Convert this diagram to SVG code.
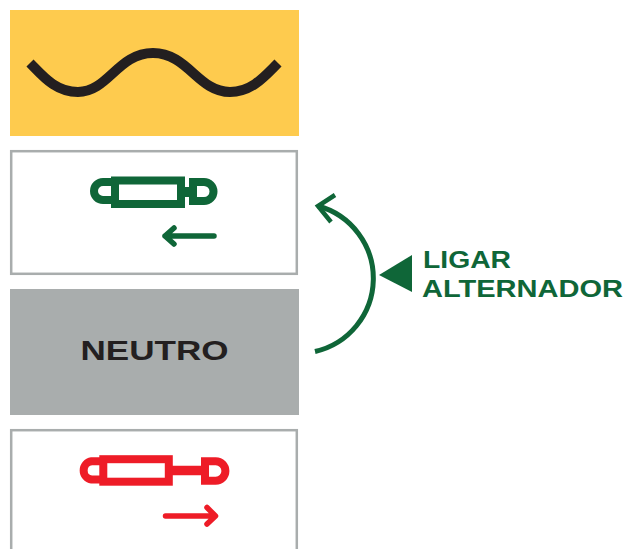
<svg xmlns="http://www.w3.org/2000/svg" width="629" height="549" viewBox="0 0 629 549">
<style>
.box{fill:#fff;stroke:#a9adad;stroke-width:2.500}
.g{fill:none;stroke:#0f6638}
.r{fill:none;stroke:#ee1c27}
text{font-family:"Liberation Sans",Arial,sans-serif;font-weight:700}
</style>
<rect width="629" height="549" fill="#fff"/>
<g id="wave-panel">
<rect x="10" y="10" width="289" height="126" fill="#fecb4e"/>
<path d="M30 63C42 75 55 92 78 92C108 92 118 53 153 53C188 53 198 92 230 92C252 92 265 76 278 63" fill="none" stroke="#231f20" stroke-width="10"/>
</g>
<g id="retract-panel">
<rect class="box" x="11.200" y="151.200" width="285.600" height="122.600"/>
<path class="g" d="M111 182H103A9 9 0 0 0 103 200H111" stroke-width="8"/>
<rect class="g" x="115" y="180.500" width="66" height="23.500" stroke-width="8"/>
<path class="g" d="M184 192H190" stroke-width="10"/>
<path class="g" d="M193 182H204A9.500 9.500 0 0 1 204 201H193Z" stroke-width="8"/>
<path class="g" d="M214 236H165M174 228L165 236L174 244" stroke-width="5.500" stroke-linecap="round" stroke-linejoin="round"/>
</g>
<g id="neutral-panel">
<rect x="10" y="289" width="289" height="126" fill="#a9adad"/>
<text x="154.500" y="360" font-size="28" text-anchor="middle" fill="#231f20" textLength="148" lengthAdjust="spacingAndGlyphs">NEUTRO</text>
</g>
<g id="extend-panel">
<rect class="box" x="11.200" y="430.200" width="285.600" height="122"/>
<path class="r" d="M100 461.300H91.500A9.200 9.200 0 0 0 91.500 479.500H100" stroke-width="8"/>
<rect class="r" x="103.300" y="459.200" width="65.500" height="22.500" stroke-width="8"/>
<path class="r" d="M172 470.500H202" stroke-width="9.500"/>
<path class="r" d="M205 461.300H215.700A9.700 9.700 0 0 1 215.700 480.700H205Z" stroke-width="8"/>
<path class="r" d="M165.500 516H214.500M207 507.500L215.500 516L207 524" stroke-width="5.500" stroke-linecap="round" stroke-linejoin="round"/>
</g>
<g id="connectors">
<path class="g" d="M315 351.500A75 75 0 0 0 318 206" stroke-width="5"/>
<path class="g" d="M335 195L318 206L331 222" stroke-width="4.500"/>
</g>
<g id="label">
<polygon points="379,275 412,255 412,292" fill="#0f6638"/>
<text x="423" y="267.500" font-size="23.500" fill="#0f6638" textLength="88" lengthAdjust="spacingAndGlyphs">LIGAR</text>
<text x="422" y="296.500" font-size="23.500" fill="#0f6638" textLength="201" lengthAdjust="spacingAndGlyphs">ALTERNADOR</text>
</g>
</svg>
